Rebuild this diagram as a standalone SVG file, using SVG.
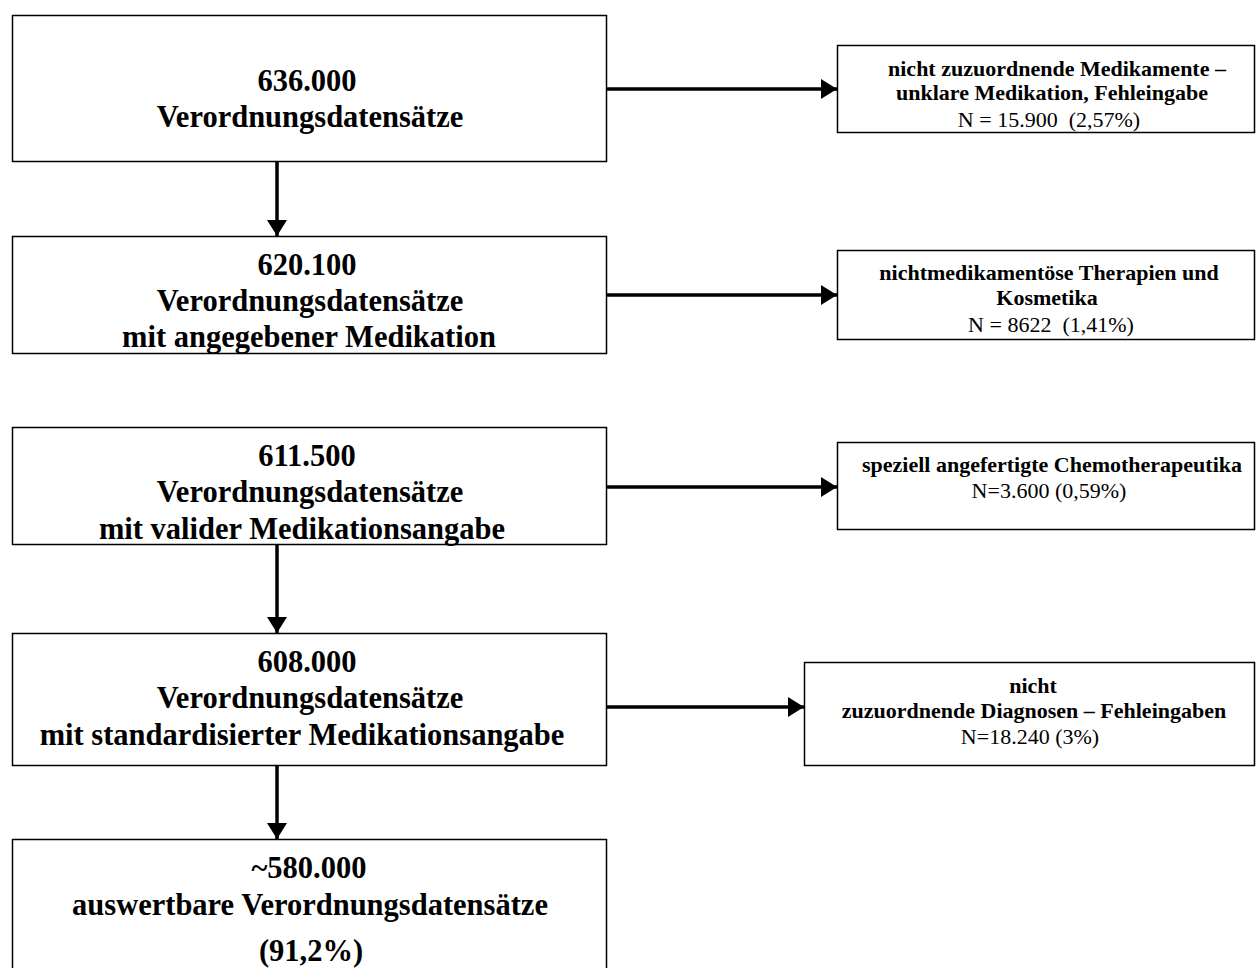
<svg xmlns="http://www.w3.org/2000/svg" width="1256" height="968" viewBox="0 0 1256 968">
<style>
.box{fill:#fff;stroke:#000;stroke-width:1.5}
text{white-space:pre}
.big{font-family:"Liberation Serif","Times New Roman",serif;font-weight:bold;font-size:30.5px;text-anchor:middle;fill:#000}
.sb{font-family:"Liberation Serif","Times New Roman",serif;font-weight:bold;font-size:22px;text-anchor:middle;fill:#000}
.sn{font-family:"Liberation Serif","Times New Roman",serif;font-size:22px;text-anchor:middle;fill:#000}
.arr{stroke:#000;stroke-width:3.5;fill:none;marker-end:url(#ah)}
</style>
<defs>
<marker id="ah" viewBox="0 0 10 10" refX="10" refY="5" markerUnits="userSpaceOnUse" markerWidth="16" markerHeight="20" orient="auto" preserveAspectRatio="none">
<path d="M0,0 L10,5 L0,10 z" fill="#000"/>
</marker>
</defs>
<rect width="1256" height="968" fill="#fff"/>
<g id="connectors">
<line class="arr" x1="277" y1="162" x2="277" y2="236"/>
<line class="arr" x1="277" y1="544" x2="277" y2="633"/>
<line class="arr" x1="277" y1="765" x2="277" y2="839"/>
<line class="arr" x1="606" y1="89" x2="837" y2="89"/>
<line class="arr" x1="606" y1="295" x2="837" y2="295"/>
<line class="arr" x1="606" y1="487" x2="837" y2="487"/>
<line class="arr" x1="606" y1="707" x2="804" y2="707"/>
</g>
<g id="n1">
<rect class="box" x="12.5" y="15.5" width="594" height="146"/>
<text class="big" x="307" y="91">636.000</text>
<text class="big" x="310" y="127">Verordnungsdatensätze</text>
</g>
<g id="n2">
<rect class="box" x="12.5" y="236.5" width="594" height="117"/>
<text class="big" x="307" y="275">620.100</text>
<text class="big" x="310" y="311">Verordnungsdatensätze</text>
<text class="big" x="309" y="347">mit angegebener Medikation</text>
</g>
<g id="n3">
<rect class="box" x="12.5" y="427.5" width="594" height="117"/>
<text class="big" x="307" y="466">611.500</text>
<text class="big" x="310" y="502">Verordnungsdatensätze</text>
<text class="big" x="302" y="539">mit valider Medikationsangabe</text>
</g>
<g id="n4">
<rect class="box" x="12.5" y="633.5" width="594" height="132"/>
<text class="big" x="307" y="672">608.000</text>
<text class="big" x="310" y="708">Verordnungsdatensätze</text>
<text class="big" x="302" y="745">mit standardisierter Medikationsangabe</text>
</g>
<g id="n5">
<rect class="box" x="12.5" y="839.5" width="594" height="140"/>
<text class="big" x="309" y="878">~580.000</text>
<text class="big" x="310" y="915">auswertbare Verordnungsdatensätze</text>
<text class="big" x="311" y="961">(91,2%)</text>
</g>
<g id="r1">
<rect class="box" x="837.5" y="45.5" width="417" height="87"/>
<text class="sb" x="1057" y="76">nicht zuzuordnende Medikamente –</text>
<text class="sb" x="1052" y="100">unklare Medikation, Fehleingabe</text>
<text class="sn" x="1049" y="127">N = 15.900  (2,57%)</text>
</g>
<g id="r2">
<rect class="box" x="837.5" y="250.5" width="417" height="89"/>
<text class="sb" x="1049" y="280">nichtmedikamentöse Therapien und</text>
<text class="sb" x="1047" y="305">Kosmetika</text>
<text class="sn" x="1051" y="332">N = 8622  (1,41%)</text>
</g>
<g id="r3">
<rect class="box" x="837.5" y="442.5" width="417" height="87"/>
<text class="sb" x="1052" y="472">speziell angefertigte Chemotherapeutika</text>
<text class="sn" x="1049" y="498">N=3.600 (0,59%)</text>
</g>
<g id="r4">
<rect class="box" x="804.5" y="662.5" width="450" height="103"/>
<text class="sb" x="1033" y="693">nicht</text>
<text class="sb" x="1034" y="718">zuzuordnende Diagnosen – Fehleingaben</text>
<text class="sn" x="1030" y="744">N=18.240 (3%)</text>
</g>
</svg>
